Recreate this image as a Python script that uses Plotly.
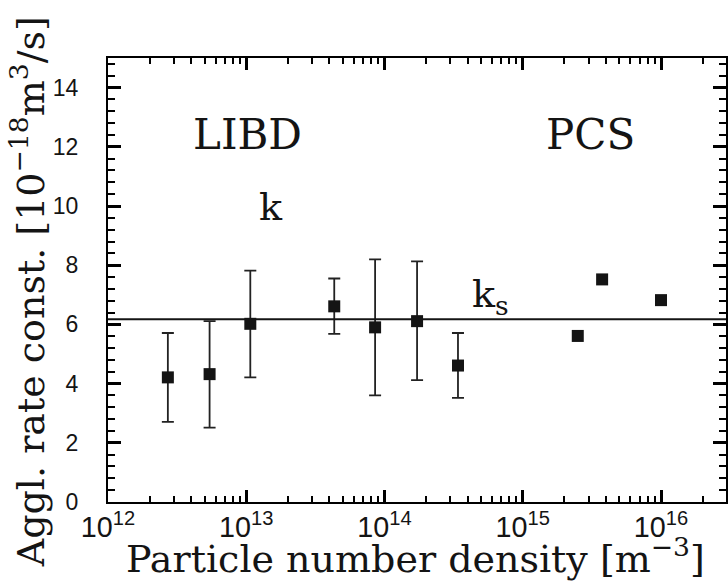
import plotly.graph_objects as go

# LIBD measurements: particle number density [m^-3], rate constant [1e-18 m^3/s]
libd_density = [2.71e12, 5.43e12, 1.07e13, 4.33e13, 8.55e13, 1.72e14, 3.4e14]
libd_k = [4.21, 4.32, 6.02, 6.61, 5.90, 6.11, 4.61]
libd_k_hi = [5.71, 6.11, 7.82, 7.55, 8.20, 8.13, 5.71]
libd_k_lo = [2.71, 2.51, 4.21, 5.68, 3.60, 4.12, 3.52]

# PCS measurements
pcs_density = [2.5e15, 3.75e15, 1.0e16]
pcs_k = [5.61, 7.52, 6.82]

# Smoluchowski rate constant
k_s = 6.17

W, H = 728, 583
L, R, T, B = 108, 0, 58, 81
x_range = [12, 12 + (W - L - R) / 138.7]
y_range = [0, 15]

ink = "black"
serif = "DejaVu Serif"
sans = "Liberation Sans"

fig = go.Figure()

fig.add_trace(go.Scatter(
    x=libd_density, y=libd_k, mode="markers",
    marker=dict(symbol="square", size=12, color="#141414"),
    error_y=dict(
        type="data", symmetric=False,
        array=[h - v for h, v in zip(libd_k_hi, libd_k)],
        arrayminus=[v - l for l, v in zip(libd_k_lo, libd_k)],
        color="#222222", thickness=1.8, width=6,
    ),
))

fig.add_trace(go.Scatter(
    x=pcs_density, y=pcs_k, mode="markers",
    marker=dict(symbol="square", size=12, color="#141414"),
))

# horizontal reference line for k_s across the full plot width
fig.add_hline(y=k_s, line=dict(color="#141414", width=2))

fig.update_layout(
    xaxis=dict(
        type="log", range=x_range, dtick=1, exponentformat="power",
        ticks="inside", ticklen=12, tickwidth=2.5, tickcolor=ink,
        showline=True, linecolor=ink, linewidth=2, mirror="ticks",
        showgrid=False, zeroline=False,
        tickfont=dict(family=sans, size=23, color="#141414"),
        minor=dict(ticks="inside", ticklen=6, tickwidth=2, tickcolor=ink),
    ),
    yaxis=dict(
        range=y_range, dtick=2,
        ticks="inside", ticklen=13, tickwidth=2.5, tickcolor=ink,
        showline=True, linecolor=ink, linewidth=2, mirror="ticks",
        showgrid=False, zeroline=False,
        tickfont=dict(family=sans, size=23, color="#141414"),
        ticksuffix="\u2002\u2002",
        minor=dict(ticks="inside", ticklen=7, tickwidth=2, tickcolor=ink,
                   dtick=0.4),
    ),
    width=W, height=H,
    margin=dict(l=L, r=R, t=T, b=B),
    plot_bgcolor="white",
    showlegend=False,
)

pw, ph = W - L - R, H - T - B


def px(xp, yp):
    return (xp - L) / pw, (H - B - yp) / ph


def label(text, xp, yp, size, angle=0):
    ax, ay = px(xp, yp)
    fig.add_annotation(
        x=ax, y=ay, xref="paper", yref="paper", text=text, showarrow=False,
        textangle=angle, xanchor="center", yanchor="middle",
        font=dict(family=serif, size=size, color="#141414"),
    )


label("LIBD", 248, 134, 42)
label("PCS", 592, 134, 42)
label("k", 272, 207, 38)
label("k<sub>s</sub>", 492, 296, 38)
label("Particle number density [m<sup>−3</sup>]", 416, 556, 38)
label("Aggl. rate const. [10<sup>−18</sup>m<sup>3</sup>/s]", 28, 292, 38, -90)

fig.write_html("out.html")
